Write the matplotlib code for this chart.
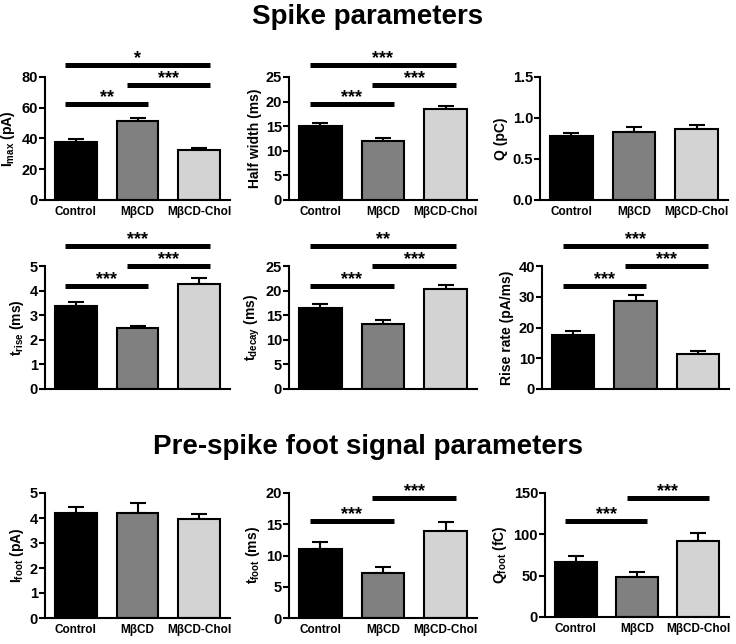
import numpy as np
import matplotlib
matplotlib.use('Agg')
import matplotlib.pyplot as plt

#------------------------------------------#
# Data (mean, sem)
groups = ['Control', 'M\u03b2CD', 'M\u03b2CD-Chol']

imax_mean = [38.0, 51.2, 32.7]
imax_sem = [1.5, 2.4, 1.4]

halfw_mean = [15.0, 12.0, 18.5]
halfw_sem = [0.6, 0.5, 0.7]

q_mean = [0.78, 0.83, 0.87]
q_sem = [0.04, 0.055, 0.045]

trise_mean = [3.38, 2.47, 4.28]
trise_sem = [0.15, 0.10, 0.22]

tdecay_mean = [16.5, 13.3, 20.3]
tdecay_sem = [0.8, 0.8, 0.9]

riserate_mean = [17.5, 28.7, 11.5]
riserate_sem = [1.2, 1.8, 0.7]

ifoot_mean = [4.2, 4.2, 3.95]
ifoot_sem = [0.25, 0.4, 0.22]

tfoot_mean = [11.1, 7.2, 14.0]
tfoot_sem = [1.0, 0.9, 1.3]

qfoot_mean = [67.0, 48.0, 92.0]
qfoot_sem = [6.5, 7.0, 10.0]

# comparisons (group i, group j, stars)
imax_sig = [(0, 1, '**'), (1, 2, '***'), (0, 2, '*')]
halfw_sig = [(0, 1, '***'), (1, 2, '***'), (0, 2, '***')]
trise_sig = [(0, 1, '***'), (1, 2, '***'), (0, 2, '***')]
tdecay_sig = [(0, 1, '***'), (1, 2, '***'), (0, 2, '**')]
riserate_sig = [(0, 1, '***'), (1, 2, '***'), (0, 2, '***')]
tfoot_sig = [(0, 1, '***'), (1, 2, '***')]
qfoot_sig = [(0, 1, '***'), (1, 2, '***')]
#------------------------------------------#

plt.rcParams['font.family'] = ['Liberation Sans', 'DejaVu Sans']
plt.rcParams['font.weight'] = 'bold'
plt.rcParams['mathtext.fontset'] = 'custom'
plt.rcParams['mathtext.rm'] = 'Liberation Sans:bold'
plt.rcParams['mathtext.default'] = 'rm'

colors = ['#000000', '#808080', '#d3d3d3']

W, H = 736, 644
fig = plt.figure(figsize=(W / 100, H / 100), dpi=100)


def px_axes(x0, x1, ytop, ybot):
    return fig.add_axes([x0 / W, 1 - ybot / H, (x1 - x0) / W, (ybot - ytop) / H])


def panel(ax, mean, sem, ylabel, ticks, sig, levels, xlabels=True, fmt=None):
    x = np.arange(len(groups))
    ax.errorbar(x, mean, yerr=[np.zeros(len(sem)), sem], fmt='none', ecolor='black',
                elinewidth=1.5, capsize=6, capthick=1.5, zorder=1)
    ax.bar(x, mean, width=0.68, color=colors, edgecolor='black', linewidth=1.5, zorder=2)
    ax.set_xlim(-0.5, 2.5)
    ax.set_ylim(0, ticks[-1])
    ax.set_yticks(ticks)
    if fmt:
        ax.set_yticklabels([fmt % t for t in ticks])
    ax.set_xticks(x)
    if xlabels:
        ax.set_xticklabels(groups, fontsize=8.5, fontweight='bold')
    else:
        ax.set_xticklabels([])
    for s in ['top', 'right']:
        ax.spines[s].set_visible(False)
    for s in ['left', 'bottom']:
        ax.spines[s].set_linewidth(1.5)
    ax.tick_params(axis='x', length=0, pad=4)
    ax.tick_params(axis='y', length=4, width=1.5, labelsize=10.5, pad=1)
    for lab in ax.get_yticklabels():
        lab.set_fontweight('bold')
    ax.set_ylabel(ylabel, fontsize=10, fontweight='bold', labelpad=3)
    # significance bars
    top = ticks[-1]
    for (i, j, stars), lv in zip(sig, levels):
        y = lv * top
        ax.plot([i - 0.17, j + 0.17], [y, y], color='black', lw=3.6,
                solid_capstyle='butt', clip_on=False)
        ax.annotate(stars, xy=((i + j) / 2, y), xytext=(0, 1.5), textcoords='offset points',
                    ha='center', va='baseline', fontsize=13, fontweight='bold',
                    annotation_clip=False)


# Row 1
ax1 = px_axes(45, 230, 77, 200)
panel(ax1, imax_mean, imax_sem, 'I$_{max}$ (pA)', [0, 20, 40, 60, 80], imax_sig, [0.78, 0.935, 1.10])
ax2 = px_axes(289, 477, 77, 200)
panel(ax2, halfw_mean, halfw_sem, 'Half width (ms)', [0, 5, 10, 15, 20, 25], halfw_sig, [0.78, 0.935, 1.10])
ax3 = px_axes(540, 728, 77, 200)
panel(ax3, q_mean, q_sem, 'Q (pC)', [0.0, 0.5, 1.0, 1.5], [], [], fmt='%.1f')

# Row 2
ax4 = px_axes(45, 230, 266, 389)
panel(ax4, trise_mean, trise_sem, 't$_{rise}$ (ms)', [0, 1, 2, 3, 4, 5], trise_sig, [0.84, 1.0, 1.16], xlabels=False)
ax5 = px_axes(289, 477, 266, 389)
panel(ax5, tdecay_mean, tdecay_sem, 't$_{decay}$ (ms)', [0, 5, 10, 15, 20, 25], tdecay_sig, [0.84, 1.0, 1.16], xlabels=False)
ax6 = px_axes(542, 729, 266, 389)
panel(ax6, riserate_mean, riserate_sem, 'Rise rate (pA/ms)', [0, 10, 20, 30, 40], riserate_sig, [0.84, 1.0, 1.16], xlabels=False)

# Row 3
ax7 = px_axes(45, 230, 493, 618)
panel(ax7, ifoot_mean, ifoot_sem, 'I$_{foot}$ (pA)', [0, 1, 2, 3, 4, 5], [], [])
ax8 = px_axes(289, 477, 493, 618)
panel(ax8, tfoot_mean, tfoot_sem, 't$_{foot}$ (ms)', [0, 5, 10, 15, 20], tfoot_sig, [0.776, 0.96])
ax9 = px_axes(545, 729, 493, 617)
panel(ax9, qfoot_mean, qfoot_sem, 'Q$_{foot}$ (fC)', [0, 50, 100, 150], qfoot_sig, [0.776, 0.96])

fig.text(0.5, 1 - 24 / H, 'Spike parameters', ha='center', va='baseline', fontsize=20, fontweight='bold')
fig.text(0.5, 1 - 454 / H, 'Pre-spike foot signal parameters', ha='center', va='baseline', fontsize=20, fontweight='bold')

fig.savefig('out.png', dpi=100)
